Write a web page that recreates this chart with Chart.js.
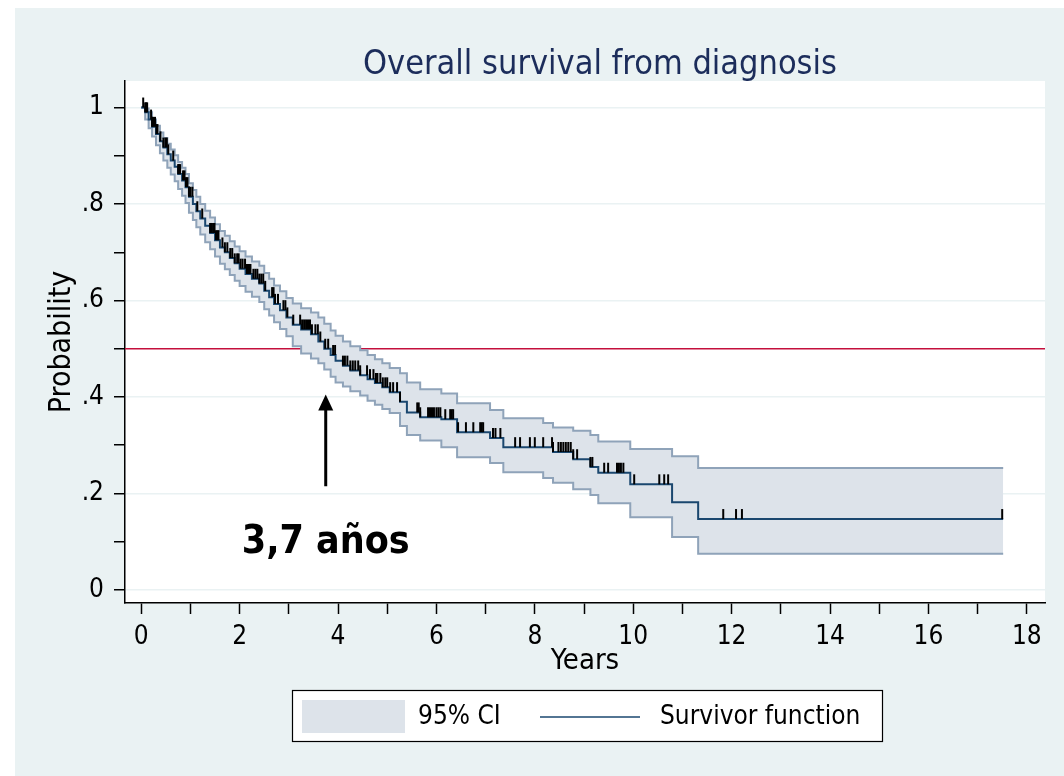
<!DOCTYPE html>
<html>
<head>
<meta charset="utf-8">
<script src="https://cdn.jsdelivr.net/npm/chart.js@4.4.0/dist/chart.umd.min.js"></script>
<style>
  body { margin: 0; background: #fff; }
  #wrap { position: absolute; left: 15px; top: 8px; width: 1049px; height: 768px; background: #eaf2f3; }
</style>
</head>
<body>
<div id="wrap"><canvas id="km" width="1049" height="768"></canvas></div>
<script>
// Kaplan-Meier: tiempos de evento y estimaciones
var chartTitle = "Overall survival from diagnosis";
var times =    [0, 0.08, 0.15, 0.22, 0.30, 0.38, 0.45, 0.53, 0.60, 0.68, 0.75, 0.83, 0.90, 0.97, 1.05, 1.12, 1.20, 1.30, 1.40, 1.50, 1.60, 1.70, 1.80, 1.90, 2.00, 2.12, 2.25, 2.40, 2.50, 2.60, 2.70, 2.82, 2.95, 3.08, 3.25, 3.45, 3.60, 3.72, 3.85, 3.95, 4.10, 4.25, 4.45, 4.60, 4.75, 4.90, 5.05, 5.26, 5.40, 5.67, 6.10, 6.42, 7.09, 7.36, 8.17, 8.37, 8.78, 9.13, 9.29, 9.94, 10.79, 11.32, 17.52];
var survival = [1.000, 0.990, 0.975, 0.960, 0.945, 0.930, 0.917, 0.903, 0.890, 0.877, 0.862, 0.849, 0.835, 0.815, 0.800, 0.785, 0.770, 0.755, 0.740, 0.725, 0.710, 0.700, 0.688, 0.677, 0.666, 0.655, 0.645, 0.635, 0.620, 0.607, 0.593, 0.580, 0.565, 0.550, 0.540, 0.530, 0.515, 0.500, 0.487, 0.475, 0.465, 0.455, 0.445, 0.437, 0.429, 0.420, 0.410, 0.390, 0.368, 0.358, 0.354, 0.327, 0.315, 0.296, 0.296, 0.286, 0.271, 0.255, 0.243, 0.219, 0.182, 0.147, 0.147];
var ciUpper =  [1.000, 0.998, 0.990, 0.975, 0.962, 0.948, 0.937, 0.925, 0.913, 0.901, 0.887, 0.875, 0.862, 0.843, 0.829, 0.815, 0.800, 0.786, 0.772, 0.758, 0.744, 0.734, 0.723, 0.712, 0.702, 0.691, 0.681, 0.672, 0.657, 0.645, 0.631, 0.619, 0.605, 0.594, 0.584, 0.575, 0.565, 0.552, 0.538, 0.527, 0.515, 0.505, 0.497, 0.487, 0.478, 0.470, 0.460, 0.449, 0.430, 0.416, 0.407, 0.387, 0.373, 0.356, 0.346, 0.337, 0.330, 0.321, 0.308, 0.292, 0.277, 0.253, 0.253];
var ciLower =  [1.000, 0.975, 0.957, 0.940, 0.922, 0.905, 0.890, 0.875, 0.861, 0.847, 0.831, 0.817, 0.802, 0.782, 0.767, 0.752, 0.737, 0.721, 0.706, 0.691, 0.676, 0.665, 0.653, 0.641, 0.630, 0.618, 0.608, 0.597, 0.582, 0.569, 0.555, 0.541, 0.526, 0.505, 0.490, 0.480, 0.470, 0.457, 0.442, 0.430, 0.422, 0.412, 0.403, 0.392, 0.384, 0.375, 0.367, 0.340, 0.321, 0.310, 0.296, 0.275, 0.263, 0.244, 0.232, 0.222, 0.209, 0.197, 0.180, 0.151, 0.110, 0.075, 0.075];
var censorTimes = [0.04, 0.08, 0.10, 0.12, 0.20, 0.22, 0.24, 0.28, 0.31, 0.33, 0.39, 0.45, 0.49, 0.52, 0.55, 0.65, 0.75, 0.77, 0.79, 0.85, 0.88, 0.91, 0.94, 0.97, 1.00, 1.04, 1.14, 1.24, 1.40, 1.43, 1.46, 1.49, 1.52, 1.55, 1.57, 1.65, 1.70, 1.75, 1.81, 1.85, 1.90, 1.95, 1.98, 2.02, 2.06, 2.11, 2.15, 2.19, 2.22, 2.28, 2.32, 2.36, 2.40, 2.44, 2.48, 2.52, 2.66, 2.69, 2.72, 2.78, 2.89, 2.93, 2.97, 3.09, 3.23, 3.27, 3.31, 3.35, 3.39, 3.43, 3.47, 3.54, 3.59, 3.64, 3.74, 3.80, 3.90, 3.94, 4.10, 4.14, 4.19, 4.25, 4.30, 4.35, 4.41, 4.45, 4.59, 4.65, 4.72, 4.77, 4.80, 4.86, 4.91, 4.96, 5.00, 5.06, 5.12, 5.20, 5.26, 5.61, 5.64, 5.67, 5.83, 5.87, 5.91, 5.95, 6.00, 6.04, 6.08, 6.18, 6.28, 6.31, 6.34, 6.44, 6.60, 6.75, 6.89, 6.92, 6.95, 7.15, 7.20, 7.30, 7.60, 7.70, 7.90, 8.00, 8.17, 8.35, 8.37, 8.48, 8.53, 8.58, 8.63, 8.68, 8.73, 8.78, 8.86, 9.13, 9.17, 9.41, 9.49, 9.67, 9.71, 9.75, 9.80, 10.02, 10.53, 10.63, 10.71, 11.83, 12.09, 12.21, 17.50];
var medianLevel = 0.5;
var arrowX = 3.75, arrowFrom = 0.215, arrowTo = 0.405;
var arrowLabel = "3,7 años", arrowLabelY = 0.076;
var xTicks = [0, 1, 2, 3, 4, 5, 6, 7, 8, 9, 10, 11, 12, 13, 14, 15, 16, 17, 18];
var xLabels = ["0", "", "2", "", "4", "", "6", "", "8", "", "10", "", "12", "", "14", "", "16", "", "18"];
var yTicks = [0, 0.1, 0.2, 0.3, 0.4, 0.5, 0.6, 0.7, 0.8, 0.9, 1];
var yLabels = ["0", "", ".2", "", ".4", "", ".6", "", ".8", "", "1"];
var xMin = -0.33, xMax = 18.37, yMin = -0.027, yMax = 1.055;
var legendLabels = ["95% CI", "Survivor function"];

// Stata usa letra estrecha y alta
var FONT = "'DejaVu Sans Condensed', 'Liberation Sans', sans-serif";
var lineColor = "#1a476f", bandFill = "#dde3ea", bandLine = "#8fa3b9", refColor = "#c40f3c";

function survAt(t){ // valor de la escalera en t
  var s = survival[0];
  for (var i = 0; i < times.length; i++){
    if (times[i] <= t) s = survival[i];
  }
  return s;
}
function pts(arr){
  return times.map(function(t, i){ return {x: t, y: arr[i]}; });
}

var kmDecor = {
  id: 'kmDecor',
  beforeDraw: function(chart){
    var a = chart.chartArea, ctx = chart.ctx;
    ctx.save();
    ctx.fillStyle = "#fff";
    ctx.fillRect(a.left, a.top, a.right - a.left, a.bottom - a.top);
    ctx.restore();
  },
  afterDraw: function(chart){
    var ctx = chart.ctx, sx = chart.scales.x, sy = chart.scales.y;
    ctx.save();
    // titulo
    ctx.fillStyle = "#1c2d5b";
    ctx.font = "34px " + FONT;
    ctx.textAlign = "center";
    ctx.textBaseline = "alphabetic";
    ctx.fillText(chartTitle, 585, 66);

    // flecha
    var ax = sx.getPixelForValue(arrowX);
    var y0 = sy.getPixelForValue(arrowFrom), y1 = sy.getPixelForValue(arrowTo);
    ctx.strokeStyle = "#000";
    ctx.fillStyle = "#000";
    ctx.lineWidth = 3;
    ctx.beginPath();
    ctx.moveTo(ax, y0);
    ctx.lineTo(ax, y1 + 12);
    ctx.stroke();
    ctx.beginPath();
    ctx.moveTo(ax, y1);
    ctx.lineTo(ax - 7.5, y1 + 16);
    ctx.lineTo(ax + 7.5, y1 + 16);
    ctx.closePath();
    ctx.fill();
    ctx.font = "bold 39px " + FONT;
    ctx.fillText(arrowLabel, ax, sy.getPixelForValue(arrowLabelY));

    // leyenda
    ctx.fillStyle = "#fff";
    ctx.fillRect(277, 682, 591, 52);
    ctx.lineWidth = 1.2;
    ctx.strokeStyle = "#000";
    ctx.strokeRect(277.5, 682.5, 590, 51);
    ctx.fillStyle = bandFill;
    ctx.fillRect(287, 692, 103, 33);
    ctx.strokeStyle = lineColor;
    ctx.lineWidth = 1.5;
    ctx.beginPath();
    ctx.moveTo(525, 709);
    ctx.lineTo(625, 709);
    ctx.stroke();
    ctx.fillStyle = "#000";
    ctx.font = "26px " + FONT;
    ctx.textAlign = "left";
    ctx.textBaseline = "middle";
    ctx.fillText(legendLabels[0], 403, 709);
    ctx.fillText(legendLabels[1], 645, 709);
    ctx.restore();
  }
};

var chart = new Chart(document.getElementById("km"), {
  type: 'line',
  data: {
    datasets: [
      { // linea de referencia 0.5
        data: [{x: xMin, y: medianLevel}, {x: xMax, y: medianLevel}],
        borderColor: refColor, borderWidth: 1.5, pointRadius: 0, fill: false, order: 5
      },
      { // IC superior, relleno hasta el inferior
        data: pts(ciUpper), stepped: true, borderColor: bandLine, borderWidth: 2,
        backgroundColor: bandFill, fill: '+1', pointRadius: 0, order: 4
      },
      {
        data: pts(ciLower), stepped: true, borderColor: bandLine, borderWidth: 2,
        fill: false, pointRadius: 0, order: 3
      },
      {
        data: pts(survival), stepped: true, borderColor: lineColor, borderWidth: 2,
        fill: false, pointRadius: 0, order: 2
      },
      { // censuras
        data: censorTimes.map(function(t){ return {x: t, y: survAt(t)}; }),
        showLine: false, pointStyle: 'dash', rotation: -90, pointRadius: 10,
        pointBorderColor: "#000", pointBorderWidth: 2, order: 1
      }
    ]
  },
  options: {
    responsive: false,
    animation: false,
    devicePixelRatio: 1,
    layout: { padding: { left: 25, top: 73, right: 19, bottom: 92 } },
    plugins: { legend: { display: false }, tooltip: { enabled: false }, title: { display: false } },
    scales: {
      x: {
        type: 'linear', min: xMin, max: xMax,
        afterBuildTicks: function(s){ s.ticks = xTicks.map(function(v){ return {value: v}; }); },
        afterFit: function(s){ s.height = 81; },
        ticks: {
          autoSkip: false, maxRotation: 0, padding: 8, color: "#000",
          font: { family: FONT, size: 26 },
          callback: function(v, i){ return xLabels[i]; }
        },
        grid: { drawOnChartArea: false, tickLength: 11, tickColor: "#000", tickWidth: 1.5 },
        border: { color: "#000", width: 1.5 },
        title: { display: true, text: "Years", color: "#000", font: { family: FONT, size: 29 }, padding: { top: 0, bottom: 5 } }
      },
      y: {
        min: yMin, max: yMax,
        afterBuildTicks: function(s){ s.ticks = yTicks.map(function(v){ return {value: v}; }); },
        afterFit: function(s){ s.width = 85; },
        ticks: {
          autoSkip: false, padding: 10, color: "#000",
          font: { family: FONT, size: 26 },
          callback: function(v, i){ return yLabels[i]; }
        },
        grid: {
          tickLength: 11, tickColor: "#000", tickWidth: 1.5, lineWidth: 1.5,
          color: function(c){ return (c.index % 2 === 0) ? "#eaf2f3" : "rgba(0,0,0,0)"; }
        },
        border: { color: "#000", width: 1.5 },
        title: { display: true, text: "Probability", color: "#000", font: { family: FONT, size: 30 }, padding: { top: 4, bottom: 0 } }
      }
    }
  },
  plugins: [kmDecor]
});
</script>
</body>
</html>
